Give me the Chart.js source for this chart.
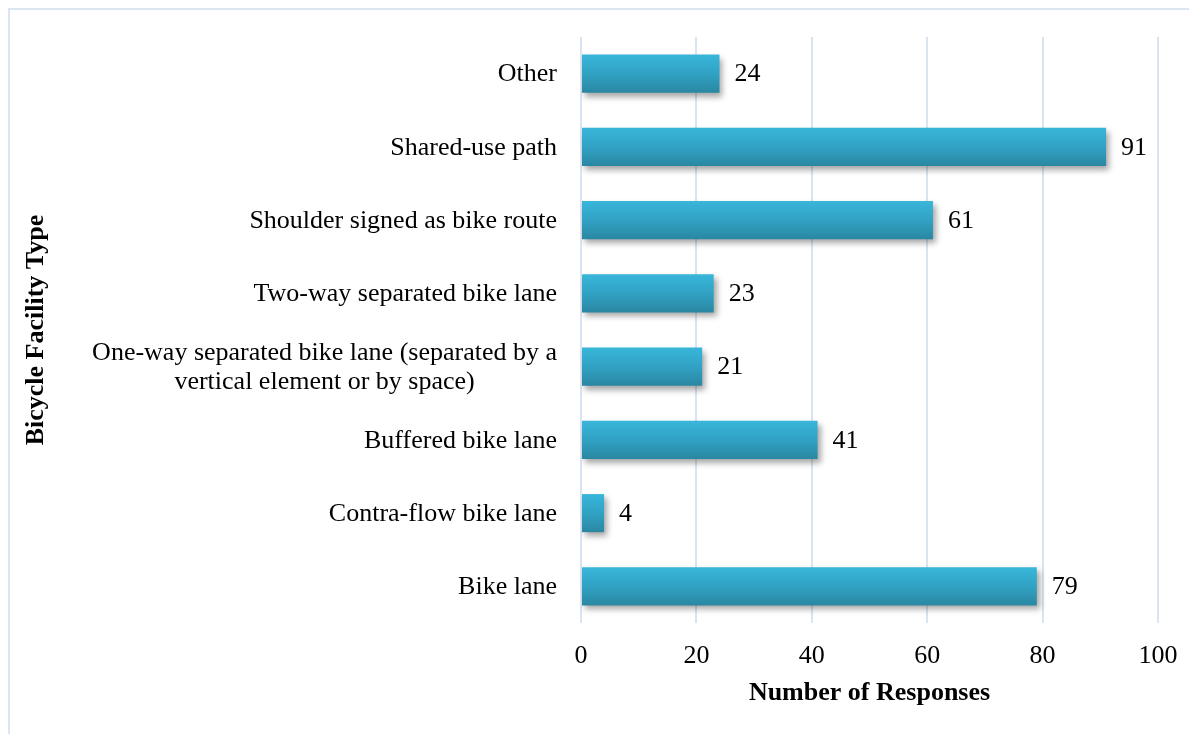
<!DOCTYPE html>
<html>
<head>
<meta charset="utf-8">
<script src="https://cdn.jsdelivr.net/npm/chart.js@4"></script>
<style>
  html, body { margin: 0; padding: 0; background: #fff; overflow: hidden; }
  #frame { position: absolute; left: 8px; top: 8px; width: 1400px; height: 1000px;
           border-left: 2px solid #dce6f2; border-top: 2px solid #dce6f2; }
  #wrap { position: absolute; left: 0; top: 0; width: 1189px; height: 734px; }
</style>
</head>
<body>
<div id="frame"></div>
<div id="wrap"><canvas id="facilityChart" width="1189" height="734"></canvas></div>
<script>
var facilityTypes = [
  'Other',
  'Shared-use path',
  'Shoulder signed as bike route',
  'Two-way separated bike lane',
  ['One-way separated bike lane (separated by a', 'vertical element or by space)'],
  'Buffered bike lane',
  'Contra-flow bike lane',
  'Bike lane'
];
var responses = [24, 91, 61, 23, 21, 41, 4, 79];
var xTicks = [0, 20, 40, 60, 80, 100];

var serif = '"Liberation Serif", "Times New Roman", serif';

document.addEventListener('DOMContentLoaded', function() {
  var canvas = document.getElementById('facilityChart');
  var ctx = canvas.getContext('2d');

  function barFill(context) {
    var chart = context.chart;
    var yScale = chart.scales.y;
    if (!yScale || context.dataIndex === undefined) return '#32a6c8';
    var mid = yScale.getPixelForValue(context.dataIndex);
    if (!isFinite(mid)) return '#32a6c8';
    var half = 19;
    var g = chart.ctx.createLinearGradient(0, mid - half, 0, mid + half);
    g.addColorStop(0, '#38b6da');
    g.addColorStop(0.5, '#31a2c4');
    g.addColorStop(1, '#2a87a2');
    return g;
  }

  // shadow under bars, then value labels and category labels
  var barExtras = {
    id: 'barExtras',
    beforeDatasetsDraw: function(chart) {
      var c = chart.ctx;
      c.save();
      c.shadowColor = 'rgba(0,0,0,0.35)';
      c.shadowBlur = 6;
      c.shadowOffsetX = 3;
      c.shadowOffsetY = 4;
    },
    afterDatasetsDraw: function(chart) {
      var c = chart.ctx;
      c.restore();
      c.save();
      c.fillStyle = '#000';
      c.font = '26px ' + serif;
      c.textBaseline = 'middle';
      c.textAlign = 'left';
      var meta = chart.getDatasetMeta(0);
      meta.data.forEach(function(bar, i) {
        c.fillText(String(responses[i]), bar.x + 15, bar.y + 1);
      });

      // category labels (multi-line ones centred on each other)
      var yScale = chart.scales.y;
      var right = chart.chartArea.left - 24;
      var lineH = 29;
      facilityTypes.forEach(function(label, i) {
        var y = yScale.getPixelForValue(i) + 1;
        if (Array.isArray(label)) {
          var maxW = 0;
          label.forEach(function(l) { maxW = Math.max(maxW, c.measureText(l).width); });
          c.textAlign = 'center';
          var cx = right - maxW / 2;
          var y0 = y - (label.length - 1) * lineH / 2;
          label.forEach(function(l, k) { c.fillText(l, cx, y0 + k * lineH); });
        } else {
          c.textAlign = 'right';
          c.fillText(label, right, y);
        }
      });
      c.restore();
    }
  };

  var chart = new Chart(ctx, {
    type: 'bar',
    data: {
      labels: facilityTypes,
      datasets: [{
        label: 'Number of Responses',
        data: responses,
        backgroundColor: barFill,
        borderWidth: 0,
        barPercentage: 0.52,
        categoryPercentage: 1
      }]
    },
    options: {
      indexAxis: 'y',
      responsive: false,
      animation: false,
      layout: { padding: { top: 37, right: 31, bottom: 25, left: 0 } },
      plugins: {
        legend: { display: false },
        tooltip: { enabled: false }
      },
      scales: {
        x: {
          min: 0,
          max: 100,
          afterBuildTicks: function(scale) {
            scale.ticks = xTicks.map(function(v) { return { value: v }; });
          },
          afterFit: function(scale) {
            scale.height = 86;
            scale.paddingRight = 0;
            scale.paddingLeft = 0;
          },
          grid: { color: '#d9e3f1', lineWidth: 2, drawTicks: false },
          border: { display: false },
          ticks: { color: '#000', padding: 18, font: { family: serif, size: 26 } },
          title: {
            display: true,
            text: 'Number of Responses',
            color: '#000',
            padding: { top: 4, bottom: 0 },
            font: { family: serif, size: 26, weight: 'bold' }
          }
        },
        y: {
          grid: { display: false },
          border: { display: false },
          ticks: { display: false },
          afterFit: function(scale) { scale.width = 581; },
          title: {
            display: true,
            text: 'Bicycle Facility Type',
            color: '#000',
            padding: { top: 21, bottom: 0 },
            font: { family: serif, size: 26, weight: 'bold' }
          }
        }
      }
    },
    plugins: [barExtras]
  });
  chart.update();
});
</script>
</body>
</html>
